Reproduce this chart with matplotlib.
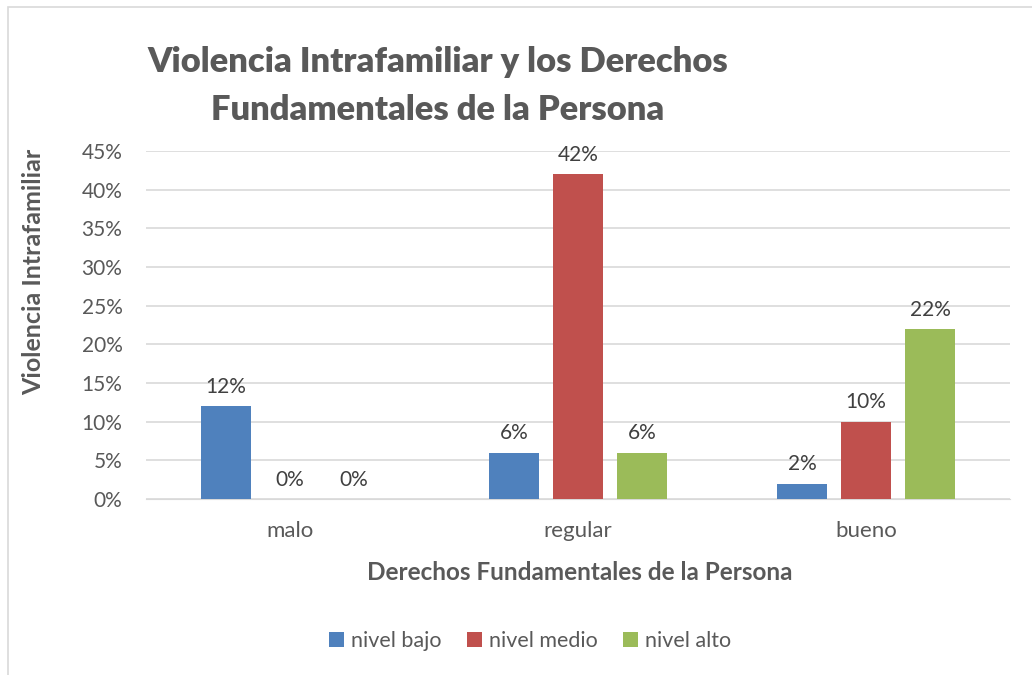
import matplotlib.pyplot as plt
import numpy as np
from matplotlib.patches import Rectangle

categories = ["malo", "regular", "bueno"]
series_names = ["nivel bajo", "nivel medio", "nivel alto"]
nivel_bajo = [12, 6, 2]
nivel_medio = [0, 42, 10]
nivel_alto = [0, 6, 22]
colors = ["#4F81BD", "#C0504D", "#9BBB59"]

plt.rcParams["font.family"] = ["Lato", "DejaVu Sans"]
gray = "#595959"

fig = plt.figure(figsize=(10.32, 6.75), dpi=100)
# chart border like excel
fig.patches.append(Rectangle((8 / 1032, -0.1), 1.2, 1 - 7 / 675 + 0.1, transform=fig.transFigure,
                             fill=False, edgecolor="#d9d9d9", linewidth=1.2))

ax = fig.add_axes([146 / 1032, 1 - 499 / 675, 864 / 1032, 348 / 675])

x = np.arange(len(categories))
width = 50 / 288
step = 64 / 288
for i, (name, vals) in enumerate(zip(series_names, [nivel_bajo, nivel_medio, nivel_alto])):
    pos = x + (i - 1) * step
    ax.bar(pos, vals, width=width, color=colors[i], label=name, zorder=3)
    for p, v in zip(pos, vals):
        ax.text(p, v + 1.2, f"{v}%", ha="center", va="bottom", fontsize=15, color="#404040")

ax.set_xlim(-0.5, 2.5)
ax.set_ylim(0, 45)
ax.set_yticks(np.arange(0, 46, 5))
ax.set_yticklabels([f"{t}%" for t in range(0, 46, 5)])
ax.set_xticks(x)
ax.set_xticklabels(categories)
ax.tick_params(axis="both", length=0, labelsize=15, colors=gray)
ax.tick_params(axis="x", pad=16, labelsize=16)
ax.tick_params(axis="y", pad=17)
ax.grid(axis="y", color="#d9d9d9", linewidth=1.2, zorder=0)
for s in ["top", "right", "left"]:
    ax.spines[s].set_visible(False)
ax.spines["bottom"].set_color("#d9d9d9")

fig.text(580 / 1032, 1 - 572 / 675, "Derechos Fundamentales de la Persona", ha="center", va="center",
         fontsize=17.5, fontweight="bold", color=gray)
fig.text(34 / 1032, 1 - 272 / 675, "Violencia Intrafamiliar", ha="center", va="center", rotation=90,
         fontsize=18, fontweight="bold", color=gray)

fig.text(438 / 1032, 1 - 86 / 675, "Violencia Intrafamiliar y los Derechos\nFundamentales de la Persona",
         ha="center", va="center", fontsize=24.8, fontweight="heavy", color=gray, linespacing=1.6)

fig.legend(loc="center", bbox_to_anchor=(530 / 1032, 1 - 641 / 675), ncol=3, frameon=False,
           fontsize=15.5, labelcolor=gray, handlelength=0.7, handleheight=0.7, columnspacing=1.2,
           handletextpad=0.3)

fig.savefig("out.png", dpi=100)
